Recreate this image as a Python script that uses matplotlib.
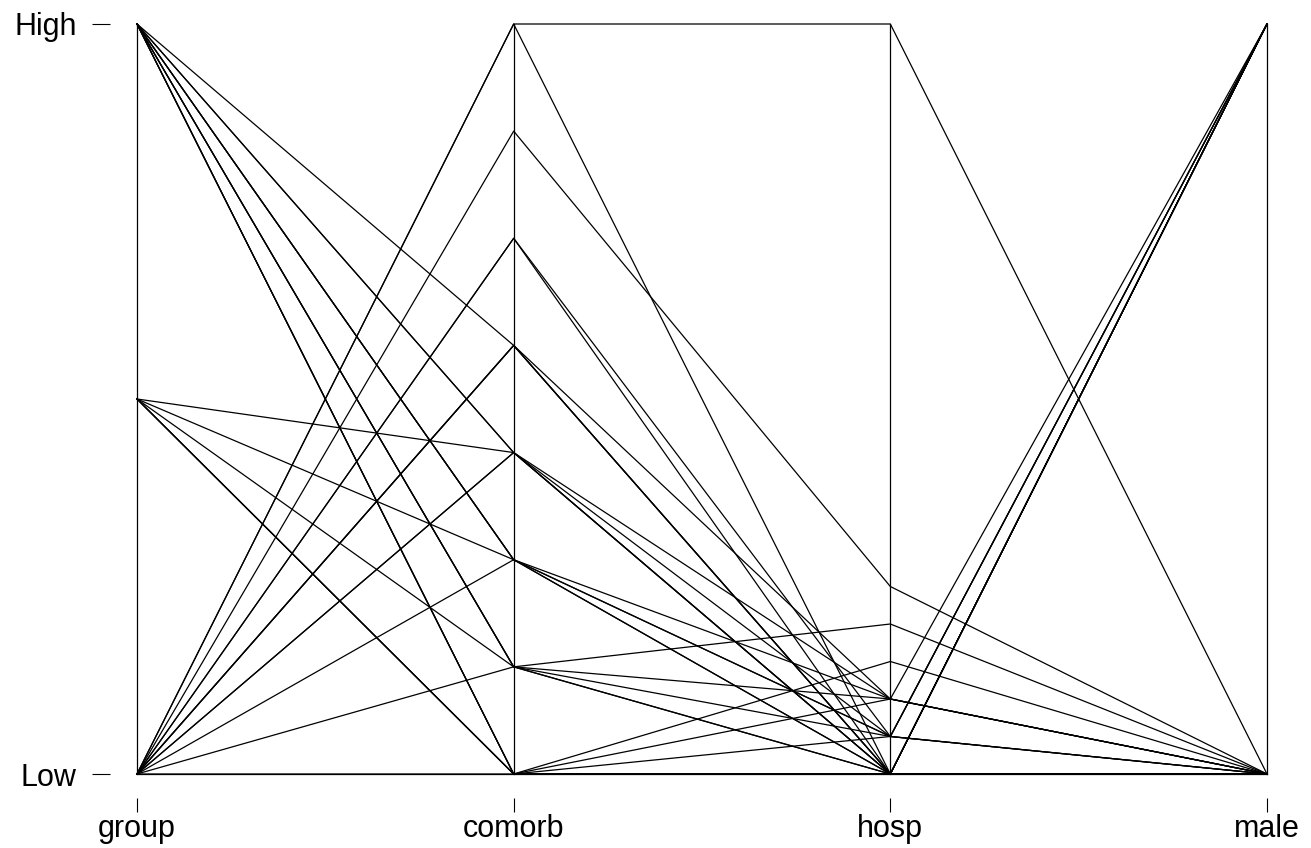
import pandas as pd
import matplotlib
matplotlib.use("Agg")
import matplotlib.pyplot as plt

plt.rcParams["font.family"] = ["Liberation Sans", "DejaVu Sans"]

# one entry per patient
variables = ["group", "comorb", "hosp", "male"]
group = [1, 1, 1, 1, 1, 1, 3, 1, 1, 3, 2, 3, 1, 2, 3, 3,
         1, 2, 3, 3, 3, 2, 1, 2, 3, 1, 3, 2, 3, 3, 1, 1]
comorb = [7, 7, 6, 5, 5, 4, 4, 4, 3, 3, 3, 3, 2, 2, 2, 2,
          1, 1, 1, 1, 0, 0, 0, 0, 0, 0, 0, 0, 2, 1, 3, 4]
hosp = [20, 0, 5, 1, 0, 0, 2, 0, 2, 1, 0, 0, 2, 1, 0, 1,
        4, 2, 1, 0, 3, 2, 1, 0, 0, 0, 0, 0, 0, 0, 0, 0]
male = [0, 1, 0, 0, 1, 0, 0, 1, 0, 1, 0, 0, 1, 0, 0, 1,
        0, 0, 0, 1, 0, 0, 1, 0, 0, 0, 1, 0, 0, 0, 1, 0]

df = pd.DataFrame({"group": group, "comorb": comorb, "hosp": hosp, "male": male})

# scale every column to [0, 1]
scaled = (df - df.min()) / (df.max() - df.min())

fig = plt.figure(figsize=(13.11, 8.48), dpi=100)
ax = fig.add_axes([137 / 1311, 74 / 848, 1130 / 1311, 750 / 848])

xs = range(len(variables))
for i in xs:
    ax.plot([i, i], [0, 1], color="black", lw=0.9, clip_on=False)

for _, row in scaled.iterrows():
    ax.plot(list(xs), row[variables].values, color="black", lw=0.9, clip_on=False)

ax.set_xlim(0, len(variables) - 1)
ax.set_ylim(0, 1)

for side in ["top", "right"]:
    ax.spines[side].set_visible(False)
ax.spines["left"].set_position(("outward", 19.5))
ax.spines["bottom"].set_position(("outward", 17))
ax.spines["left"].set_visible(False)
ax.spines["bottom"].set_visible(False)

ax.set_yticks([0, 1])
ax.set_yticklabels(["Low", "High"])
ax.set_xticks(list(xs))
ax.set_xticklabels(variables)

ax.tick_params(axis="y", length=13, width=0.8, pad=11, labelsize=22)
ax.tick_params(axis="x", length=10, width=0.8, pad=18.5, labelsize=22)
for lab in ax.get_xticklabels():
    lab.set_verticalalignment("baseline")

fig.savefig("out.png", dpi=100)
